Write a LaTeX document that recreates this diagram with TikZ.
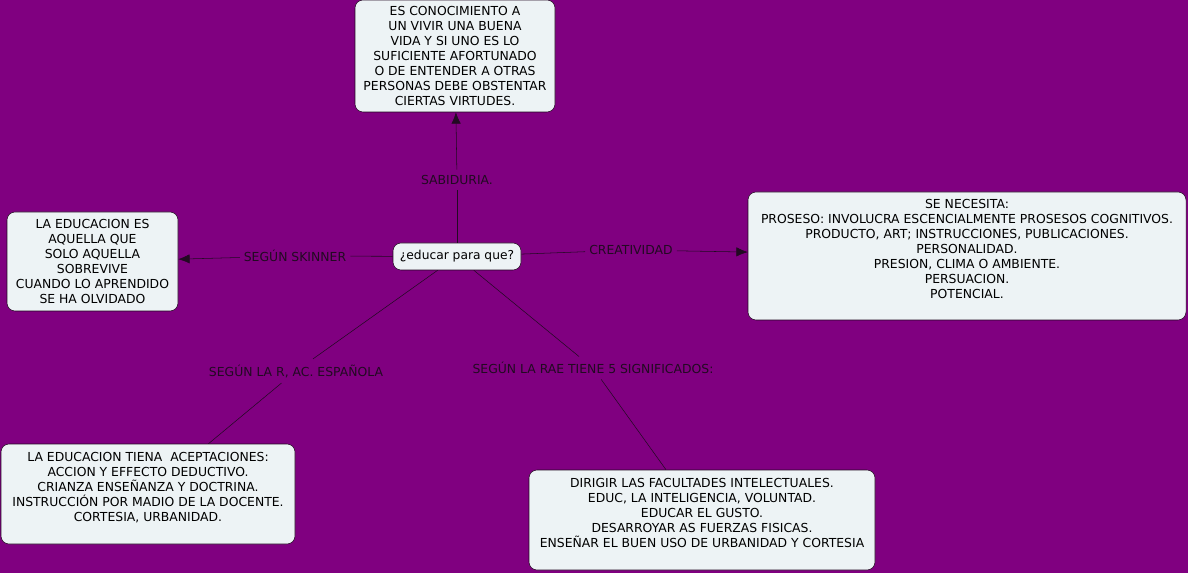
\documentclass[tikz,border=0pt]{standalone}
\usepackage{fontspec}
\setmainfont{DejaVu Sans}
\usepackage{xcolor}
\usepackage{tikz}
\usetikzlibrary{arrows.meta,positioning}
\definecolor{bg}{RGB}{128,0,128}
\definecolor{boxfill}{RGB}{237,243,245}
\definecolor{ink}{RGB}{34,10,34}

\begin{document}
\begin{tikzpicture}[x=0.75pt,y=-0.75pt,
  font=\fontsize{9.3}{11.25}\selectfont,
  n/.style={draw=ink,fill=boxfill,rounded corners=6pt,align=center,text=black,inner sep=2pt},
  l/.style={text=ink,inner xsep=3pt,inner ysep=4pt,align=center},
  a/.style={-{Latex[length=8.5pt,width=7pt]},color=ink},
  ln/.style={color=ink}]
  \useasboundingbox[fill=bg] (0,0) rectangle (1188,573);
  % concepts
  \node[n,minimum width=96pt,minimum height=20.25pt,font=\fontsize{9.2}{11}\selectfont] (edu) at (457,256.5) {¿educar para que?};
  \node[n,minimum width=150pt,minimum height=84pt] (sabbox) at (455,56)
    {ES CONOCIMIENTO A\\UN VIVIR UNA BUENA\\VIDA Y SI UNO ES LO\\SUFICIENTE AFORTUNADO\\O DE ENTENDER A OTRAS\\PERSONAS DEBE OBSTENTAR\\CIERTAS VIRTUDES.};
  \node[n,minimum width=128.25pt,minimum height=74.25pt] (skbox) at (92.5,261.5)
    {LA EDUCACION ES\\AQUELLA QUE\\SOLO AQUELLA\\SOBREVIVE\\CUANDO LO APRENDIDO\\SE HA OLVIDADO};
  \node[n,minimum width=328.5pt,minimum height=96pt] (crbox) at (967,256)
    {SE NECESITA:\\PROSESO: INVOLUCRA ESCENCIALMENTE PROSESOS COGNITIVOS.\\PRODUCTO, ART; INSTRUCCIONES, PUBLICACIONES.\\PERSONALIDAD.\\PRESION, CLIMA O AMBIENTE.\\PERSUACION.\\POTENCIAL.\\ ~};
  \node[n,minimum width=220.5pt,minimum height=75pt] (acbox) at (148,494)
    {LA EDUCACION TIENA\ \ ACEPTACIONES:\\ACCION Y EFFECTO DEDUCTIVO.\\CRIANZA ENSEÑANZA Y DOCTRINA.\\INSTRUCCIÓN POR MADIO DE LA DOCENTE.\\CORTESIA, URBANIDAD.\\ ~};
  \node[n,minimum width=259.5pt,minimum height=75pt] (raebox) at (702,520)
    {DIRIGIR LAS FACULTADES INTELECTUALES.\\EDUC, LA INTELIGENCIA, VOLUNTAD.\\EDUCAR EL GUSTO.\\DESARROYAR AS FUERZAS FISICAS.\\ENSEÑAR EL BUEN USO DE URBANIDAD Y CORTESIA\\ ~};
  % linking phrases
  \node[l] (sab) at (457,180) {SABIDURIA.};
  \node[l] (skin) at (295,256) {SEGÚN SKINNER};
  \node[l] (crea) at (631,250) {CREATIVIDAD};
  \node[l] (rac) at (296,371) {SEGÚN LA R, AC. ESPAÑOLA};
  \node[l] (rae) at (593,368) {SEGÚN LA RAE TIENE 5 SIGNIFICADOS:};
  % links
  \draw[ln] (edu) -- (sab); \draw[a] (sab) -- (sabbox);
  \draw[ln] (edu) -- (skin); \draw[a] (skin) -- (skbox);
  \draw[ln] (edu) -- (crea); \draw[a] (crea) -- (crbox);
  \draw[ln] (edu) -- (rac); \draw[ln] (rac) -- (acbox);
  \draw[ln] (edu) -- (rae); \draw[ln] (rae) -- (raebox);
\end{tikzpicture}
\end{document}
